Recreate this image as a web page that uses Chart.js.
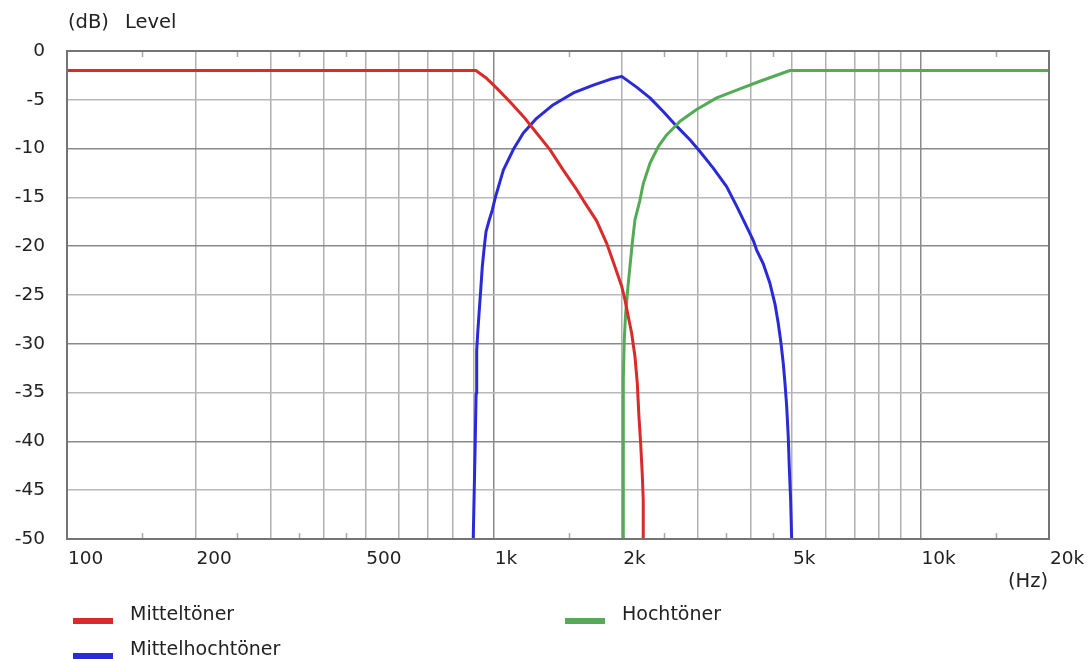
<!DOCTYPE html>
<html>
<head>
<meta charset="utf-8">
<script src="https://cdn.jsdelivr.net/npm/chart.js@4.4.1/dist/chart.umd.min.js"></script>
<style>
  html, body { margin: 0; padding: 0; background: #ffffff; }
  #wrap { width: 1090px; height: 659px; }
</style>
</head>
<body>
<div id="wrap"><canvas id="chart" width="1090" height="659"></canvas></div>
<script>
// Crossover response of a three-way speaker (level in dB over frequency in Hz)

const seriesNames = ['Mitteltöner', 'Hochtöner', 'Mittelhochtöner'];
const seriesColors = ['#d92b2b', '#55aa55', '#2a2ad6'];

// Mitteltöner (midrange, low-pass)
const midFreq  = [100, 908, 962, 1016, 1091, 1173, 1260, 1354, 1455, 1564, 1621, 1742, 1839, 1923,
                  1994, 2030, 2066, 2104, 2142, 2169, 2189, 2209, 2228, 2240, 2240];
const midLevel = [-2, -2, -2.8, -3.8, -5.2, -6.7, -8.4, -10.1, -12.2, -14.2, -15.3, -17.4, -19.7, -22.1,
                  -24.1, -25.5, -27.2, -28.9, -31.3, -34.0, -37.5, -40.2, -43.3, -46.0, -50];

// Hochtöner (tweeter, high-pass)
const highFreq  = [2011, 2011, 2012, 2022, 2037, 2059, 2085, 2111, 2142, 2200, 2240, 2323, 2429, 2542, 2732,
                   2988, 3329, 3708, 4205, 4943, 20000];
const highLevel = [-50, -39.0, -33.6, -29.6, -26.9, -24.5, -22.1, -19.7, -17.3, -15.3, -13.6, -11.5, -9.8, -8.6, -7.2,
                   -6.0, -4.8, -4.0, -3.1, -2.0, -2];

// Mittelhochtöner (upper midrange, band-pass)
const upperFreq  = [895, 900, 905, 909, 912, 917, 925, 932, 940, 950, 959, 976, 992, 1007, 1053, 1111, 1173,
                    1260, 1379, 1536, 1711, 1873, 1994, 2161, 2323, 2495, 2682, 2882, 3042, 3268, 3513, 3708, 3913,
                    4055, 4130, 4280, 4437, 4559, 4641, 4709, 4768, 4812, 4857, 4898, 4925, 4962, 4989];
const upperLevel = [-50, -45.0, -39.9, -35.1, -30.7, -28.9, -26.5, -24.5, -22.1, -20.1, -18.5, -17.3, -16.3, -15.1,
                    -12.2, -10.1, -8.4, -6.9, -5.5, -4.3, -3.5, -2.9, -2.6, -3.7, -4.8, -6.2, -7.7, -9.1, -10.3, -12.0,
                    -13.9, -15.9, -18.0, -19.4, -20.4, -21.8, -23.8, -25.9, -27.9, -29.9, -32.0, -34.0, -36.4, -39.5,
                    -42.6, -46.0, -50];

// Frequency axis: grid positions, labelled positions and small inner tick marks
const gridFreqs = [100, 200, 300, 400, 500, 600, 700, 800, 900, 1000, 2000, 3000, 4000, 5000, 6000, 7000, 8000, 9000, 10000, 20000];
const labelFreqs = [100, 200, 500, 1000, 2000, 5000, 10000, 20000];
const labelTexts = ['100', '200', '500', '1k', '2k', '5k', '10k', '20k'];
const minorFreqs = [150, 250, 350, 450, 1500, 2500, 3500, 4500, 15000];
const decadeFreqs = [1000, 10000];

const yUnit = '(dB)';
const yName = 'Level';
const xUnit = '(Hz)';

const FONT = 'DejaVu Sans';
const TEXT = '#222222';

function toPoints(fs, ls) { return fs.map((f, i) => ({ x: f, y: ls[i] })); }

const seriesData = [toPoints(midFreq, midLevel), toPoints(highFreq, highLevel), toPoints(upperFreq, upperLevel)];

const decorations = {
  id: 'decorations',
  beforeDatasetsDraw(chart) {
    const { ctx, chartArea: a, scales: { x } } = chart;
    ctx.save();
    ctx.strokeStyle = '#a8a8a8';
    ctx.lineWidth = 1.5;
    minorFreqs.forEach(f => {
      const px = Math.round(x.getPixelForValue(f)) + 0.5;
      ctx.beginPath();
      ctx.moveTo(px, a.top); ctx.lineTo(px, a.top + 6);
      ctx.moveTo(px, a.bottom); ctx.lineTo(px, a.bottom - 6);
      ctx.stroke();
    });
    ctx.restore();
  },
  afterDraw(chart) {
    const { ctx, chartArea: a } = chart;
    ctx.save();
    // frame
    ctx.strokeStyle = '#747474';
    ctx.lineWidth = 2;
    ctx.strokeRect(a.left, a.top, a.right - a.left, a.bottom - a.top);
    // axis titles
    ctx.fillStyle = TEXT;
    ctx.font = '19.5px "' + FONT + '"';
    ctx.textBaseline = 'middle';
    ctx.textAlign = 'left';
    ctx.fillText(yUnit, a.left + 1, 23);
    ctx.fillText(yName, a.left + 58, 23);
    ctx.textAlign = 'right';
    ctx.fillText(xUnit, a.right - 1, 582);
    // legend in two columns
    const cols = [73, 565];
    const rows = [617, 652];
    ctx.font = '19px "' + FONT + '"';
    chart.data.datasets.forEach((ds, i) => {
      const cx = cols[i % 2];
      const cy = rows[Math.floor(i / 2)];
      ctx.fillStyle = ds.borderColor;
      ctx.fillRect(cx, cy + 1, 40, 6);
      ctx.fillStyle = TEXT;
      ctx.textAlign = 'left';
      ctx.fillText(ds.label, cx + 57, cy - 2);
    });
    ctx.restore();
  }
};

new Chart(document.getElementById('chart'), {
  type: 'line',
  data: {
    datasets: seriesNames.map((name, i) => ({
      label: name,
      data: seriesData[i],
      borderColor: seriesColors[i],
      backgroundColor: seriesColors[i],
      borderWidth: 3,
      pointRadius: 0,
      tension: 0,
      borderJoinStyle: 'round',
      fill: false
    }))
  },
  options: {
    responsive: false,
    animation: false,
    events: [],
    layout: { padding: { top: 51, right: 41, bottom: 0, left: 0 } },
    plugins: { legend: { display: false }, tooltip: { enabled: false } },
    scales: {
      x: {
        type: 'logarithmic',
        min: 100,
        max: 20000,
        afterBuildTicks(scale) { scale.ticks = gridFreqs.map(v => ({ value: v })); },
        afterFit(scale) { scale.height = 120; scale.paddingLeft = 0; scale.paddingRight = 0; },
        border: { display: false },
        grid: {
          drawTicks: false,
          lineWidth: 1.5,
          color: ctx => (ctx.tick && decadeFreqs.includes(ctx.tick.value)) ? '#8a8a8a' : '#b0b0b0'
        },
        ticks: {
          autoSkip: false,
          maxRotation: 0,
          align: 'start',
          labelOffset: 1,
          padding: 9,
          color: TEXT,
          font: { family: FONT, size: 18.5 },
          callback(value) {
            const k = labelFreqs.indexOf(value);
            return k >= 0 ? labelTexts[k] : '';
          }
        }
      },
      y: {
        type: 'linear',
        min: -50,
        max: 0,
        afterFit(scale) { scale.width = 67; },
        border: { display: false },
        grid: {
          drawTicks: false,
          lineWidth: 1.5,
          color: ctx => (ctx.tick && ctx.tick.value % 10 === 0) ? '#8a8a8a' : '#b8b8b8'
        },
        ticks: {
          stepSize: 5,
          padding: 22,
          color: TEXT,
          font: { family: FONT, size: 18.5 }
        }
      }
    }
  },
  plugins: [decorations]
});
</script>
</body>
</html>
